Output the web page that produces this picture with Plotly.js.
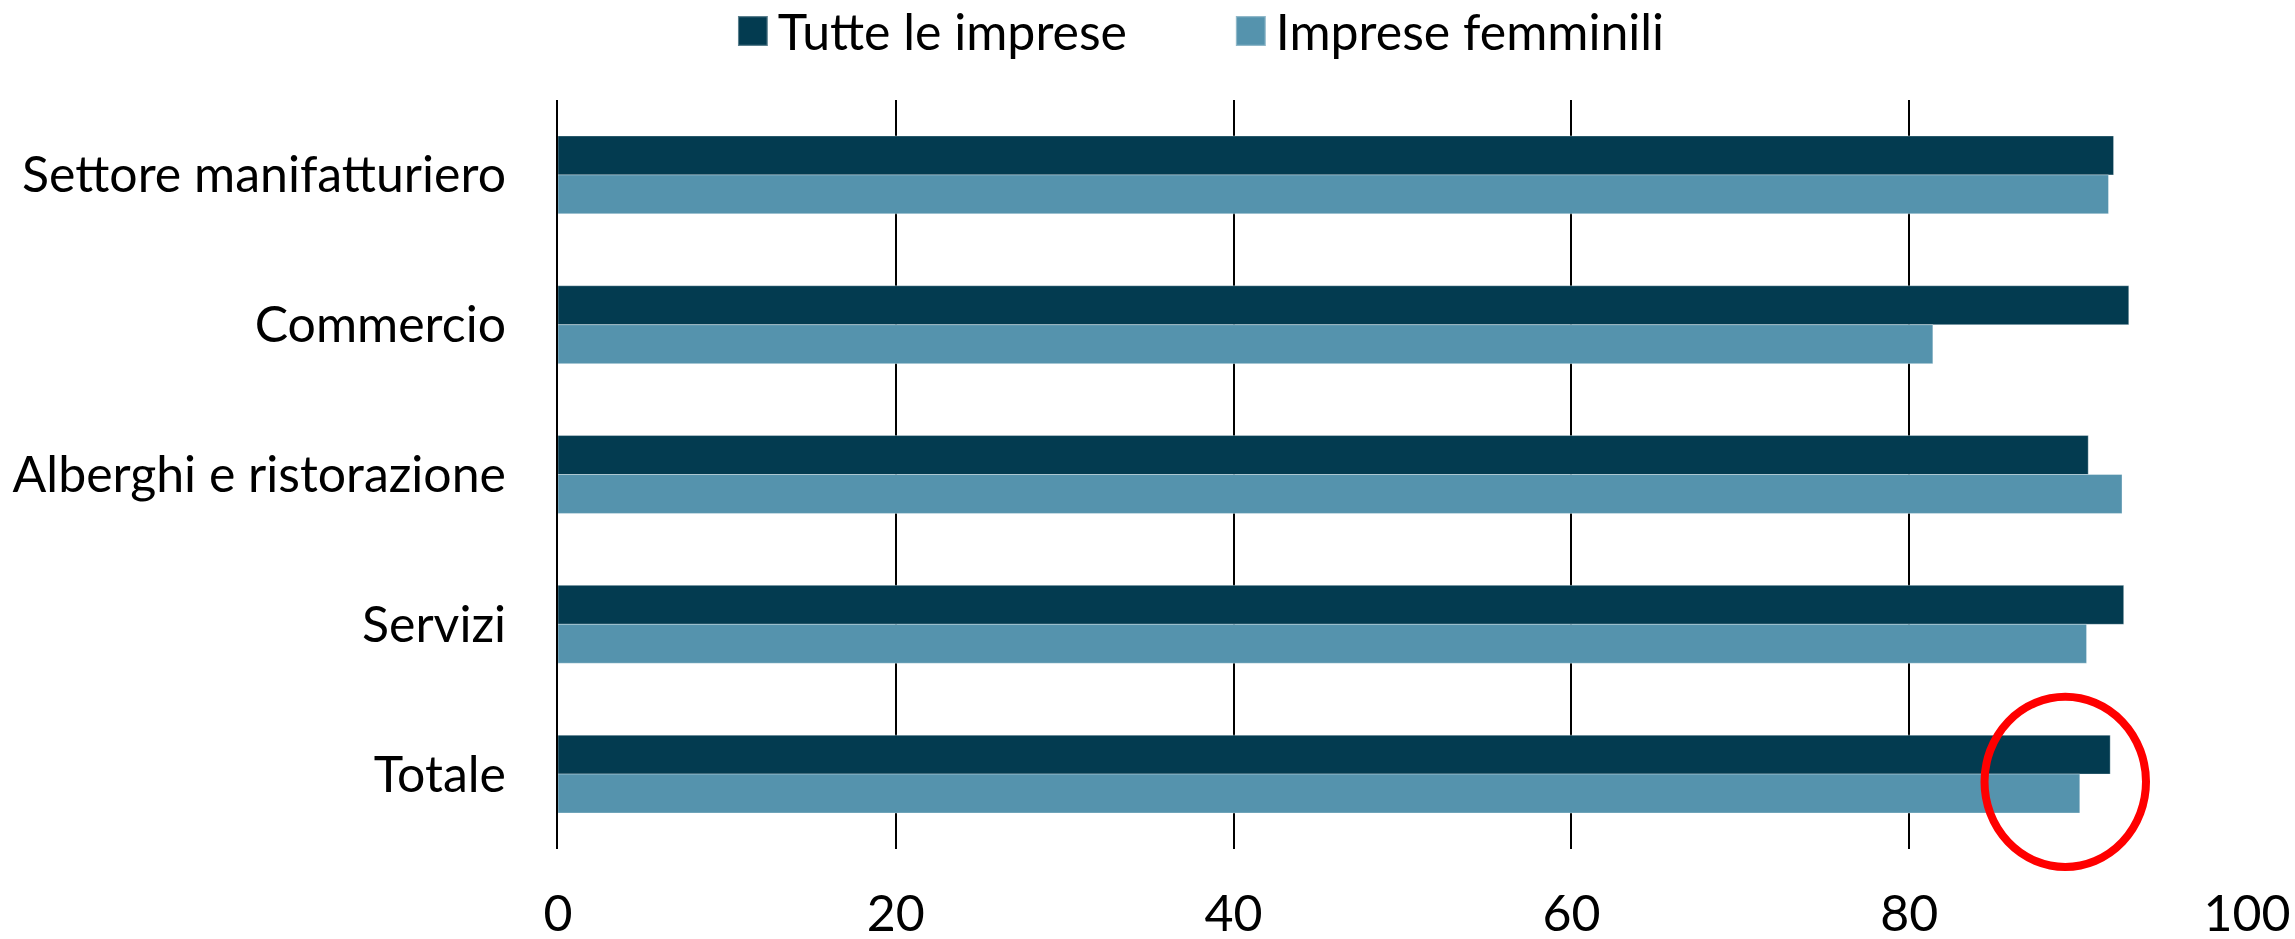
<!DOCTYPE html>
<html>
<head>
<meta charset="utf-8">
<script src="https://cdn.plot.ly/plotly-3.0.1.min.js"></script>
<style>
html, body { margin: 0; padding: 0; background: #fff; }
#chart { width: 2295px; height: 939px; }
.legend .legendpoints path { transform: translate(15px, 0px) scale(2.5); }
</style>
</head>
<body>
<div id="chart"></div>
<script>
const categories = ["Settore manifatturiero", "Commercio", "Alberghi e ristorazione", "Servizi", "Totale"];
const seriesNames = ["Tutte le imprese", "Imprese femminili"];
const tutteLeImprese = [92.1, 93.0, 90.6, 92.7, 91.9];
const impreseFemminili = [91.8, 81.4, 92.6, 90.5, 90.1];
const xTickVals = [0, 20, 40, 60, 80, 100];
const xTickText = ["0", "20", "40", "60", "80", "100"];

const FONT = "Lato, 'Liberation Sans', sans-serif";

const traces = [
  {
    type: "bar", orientation: "h", name: seriesNames[0],
    y: categories, x: tutteLeImprese,
    marker: { color: "#033b50", line: { color: "rgba(255,255,255,0.35)", width: 1 } },
    hoverinfo: "x+y"
  },
  {
    type: "bar", orientation: "h", name: seriesNames[1],
    y: categories, x: impreseFemminili,
    marker: { color: "#5593ad", line: { color: "rgba(255,255,255,0.35)", width: 1 } },
    hoverinfo: "x+y"
  }
];

const layout = {
  width: 2295, height: 939,
  paper_bgcolor: "#ffffff", plot_bgcolor: "#ffffff",
  margin: { l: 558, r: 48, t: 100, b: 90, pad: 0 },
  font: { family: FONT, size: 50, color: "#000000" },
  barmode: "group", bargap: 0.48, bargroupgap: 0,
  showlegend: true,
  legend: {
    orientation: "h",
    xref: "container", yref: "container",
    x: 0.3215, xanchor: "left",
    y: 0.967, yanchor: "middle",
    font: { family: FONT, size: 50, color: "#000000" },
    itemwidth: 30,
    entrywidth: 453, entrywidthmode: "pixels",
    traceorder: "normal",
    bgcolor: "rgba(0,0,0,0)"
  },
  xaxis: {
    range: [0, 100],
    tickvals: xTickVals, ticktext: xTickText,
    showgrid: true, gridcolor: "#000000", gridwidth: 1.7,
    zeroline: false, showline: false,
    ticks: "", ticklabelstandoff: 31,
    tickfont: { family: FONT, size: 50, color: "#000000" }
  },
  yaxis: {
    type: "category",
    autorange: "reversed",
    showgrid: false, zeroline: false,
    showline: true, linecolor: "#000000", linewidth: 2,
    ticks: "", ticklabelstandoff: 40,
    tickfont: { family: FONT, size: 50, color: "#000000" }
  },
  shapes: [
    {
      type: "circle", xref: "paper", yref: "paper",
      x0: 0.8446, x1: 0.9402, y0: -0.024, y1: 0.2033,
      line: { color: "#ff0000", width: 8 },
      fillcolor: "rgba(0,0,0,0)", layer: "above"
    }
  ]
};

Plotly.newPlot("chart", traces, layout, { displayModeBar: false, responsive: false });
</script>
</body>
</html>
